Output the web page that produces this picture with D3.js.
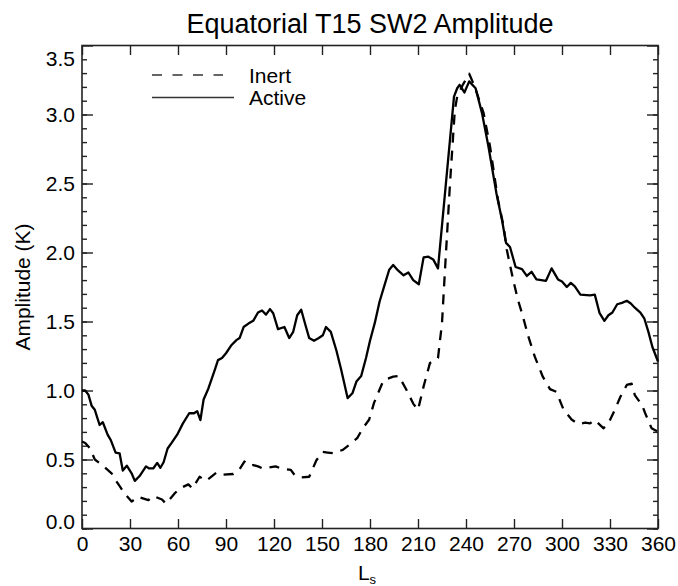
<!DOCTYPE html>
<html>
<head>
<meta charset="utf-8">
<script src="https://cdn.jsdelivr.net/npm/d3@7"></script>
<style>
  html, body { margin: 0; padding: 0; background: #fff; }
  svg { display: block; font-family: "Liberation Sans", Arial, Helvetica, sans-serif; }
</style>
</head>
<body>
<svg id="chart" width="678" height="586"></svg>
<script>
// Solar longitude (Ls) and amplitude (K) for each simulation
const activeLs = [0, 2, 4, 6, 8, 11, 13, 16, 18, 21, 23.5, 25.5, 28, 31, 33, 36, 40, 42, 44.5, 47, 49, 51, 53.5, 56, 59.5, 63, 67, 70, 72, 74, 76, 79, 83, 85, 87.5, 90, 93.5, 96.5, 98.5, 101, 104, 107, 110, 112.5, 115, 117.5, 119.5, 122.5, 126.5, 129.5, 132, 134.5, 137, 140, 142, 145, 148, 150.5, 152.5, 155.5, 159, 162, 166, 169, 171.5, 174.5, 177.5, 180, 183, 186, 189.5, 192, 194.5, 197.5, 201, 204, 207, 210.5, 213.5, 216.5, 219.5, 222.5, 232.5, 234.5, 236, 239, 242, 246, 250, 254, 259, 262.5, 265, 267.5, 271, 275, 278, 281, 284, 290, 293.5, 297.5, 300, 303, 305.5, 308, 311.5, 317.5, 320.5, 323.5, 326.5, 329, 331.5, 334.5, 337.5, 340.5, 343, 345.5, 349, 351.5, 354, 356.5, 360];
const activeAmp = [1.00, 1.00, 0.97, 0.89, 0.86, 0.75, 0.77, 0.68, 0.64, 0.55, 0.545, 0.42, 0.455, 0.40, 0.345, 0.38, 0.45, 0.435, 0.435, 0.475, 0.44, 0.48, 0.58, 0.62, 0.68, 0.76, 0.835, 0.835, 0.85, 0.785, 0.935, 1.015, 1.15, 1.22, 1.235, 1.27, 1.33, 1.365, 1.38, 1.46, 1.485, 1.505, 1.565, 1.58, 1.55, 1.59, 1.56, 1.445, 1.46, 1.38, 1.425, 1.545, 1.585, 1.46, 1.38, 1.36, 1.38, 1.40, 1.46, 1.425, 1.29, 1.15, 0.945, 0.98, 1.065, 1.105, 1.235, 1.36, 1.49, 1.645, 1.78, 1.875, 1.91, 1.87, 1.835, 1.855, 1.80, 1.77, 1.965, 1.97, 1.95, 1.885, 3.13, 3.19, 3.215, 3.16, 3.24, 3.19, 3.01, 2.77, 2.43, 2.235, 2.07, 2.04, 1.895, 1.88, 1.83, 1.86, 1.805, 1.795, 1.885, 1.805, 1.79, 1.75, 1.78, 1.755, 1.695, 1.69, 1.695, 1.56, 1.505, 1.545, 1.565, 1.625, 1.635, 1.65, 1.63, 1.60, 1.565, 1.52, 1.425, 1.315, 1.21];

const inertLs = [0, 2, 5, 8, 12, 18.5, 21, 24.5, 28, 31, 35, 41.5, 44.5, 50, 52.5, 58, 61, 66.5, 69, 73.5, 77.5, 84, 87, 94.5, 98.5, 101.5, 104.5, 107, 110, 113, 121, 124.5, 130.5, 133, 137, 142, 146.5, 150.5, 153.5, 157, 163, 168, 172, 175.5, 179.5, 182.5, 185, 188.5, 194.5, 198, 203, 207, 210, 213.5, 217.5, 222.5, 225, 227, 230, 233, 234.5, 238, 242, 245.5, 251, 255, 260, 263.5, 265.5, 269.5, 272.5, 275, 279, 283, 288, 292.5, 296.5, 301, 306, 310, 314.5, 317.5, 320.5, 326, 329.5, 333, 336.5, 340.5, 343.5, 345.5, 350, 352, 356, 360];
const inertAmp = [0.63, 0.62, 0.58, 0.50, 0.465, 0.40, 0.35, 0.29, 0.235, 0.195, 0.23, 0.205, 0.235, 0.21, 0.18, 0.255, 0.29, 0.32, 0.29, 0.375, 0.345, 0.405, 0.39, 0.395, 0.43, 0.485, 0.455, 0.46, 0.45, 0.435, 0.45, 0.435, 0.425, 0.385, 0.37, 0.375, 0.495, 0.555, 0.55, 0.545, 0.57, 0.615, 0.655, 0.725, 0.79, 0.91, 0.98, 1.075, 1.10, 1.105, 1.00, 0.905, 0.86, 1.03, 1.20, 1.235, 1.49, 1.90, 2.50, 3.03, 3.13, 3.215, 3.295, 3.20, 3.01, 2.77, 2.38, 2.19, 2.02, 1.80, 1.655, 1.56, 1.39, 1.245, 1.10, 1.01, 0.99, 0.86, 0.79, 0.757, 0.767, 0.762, 0.786, 0.726, 0.774, 0.86, 0.955, 1.04, 1.05, 0.967, 0.895, 0.835, 0.726, 0.70];

// Axis ticks
const xTicks = [0, 30, 60, 90, 120, 150, 180, 210, 240, 270, 300, 330, 360];
const yTicks = [0.0, 0.5, 1.0, 1.5, 2.0, 2.5, 3.0, 3.5];
const yMinorTicks = d3.range(0, 35).map(i => i / 10);

const legendNames = ["Inert", "Active"];

const svg = d3.select("#chart");
const plotLeft = 82, plotRight = 658, plotTop = 45.5, plotBottom = 528.5;

const x = d3.scaleLinear().domain([0, 360]).range([plotLeft, plotRight]);
const y = d3.scaleLinear().domain([0, 3.5]).range([plotBottom, plotTop]);

const axisColor = "#222";
const labelSize = 21;

// Bottom axis with labels
const gBottom = svg.append("g").attr("transform", `translate(0,${plotBottom})`)
  .call(d3.axisBottom(x).tickValues(xTicks).tickSizeInner(-9.5).tickSizeOuter(0)
    .tickPadding(8).tickFormat(d3.format("d")));
// Top axis ticks
const gTop = svg.append("g").attr("transform", `translate(0,${plotTop})`)
  .call(d3.axisTop(x).tickValues(xTicks).tickSizeInner(-9.5).tickSizeOuter(0).tickFormat(""));
// Left axis with labels, minor ticks
const gLeftMinor = svg.append("g").attr("transform", `translate(${plotLeft},0)`)
  .call(d3.axisLeft(y).tickValues(yMinorTicks).tickSizeInner(-5).tickSizeOuter(0).tickFormat(""));
const gLeft = svg.append("g").attr("transform", `translate(${plotLeft},0)`)
  .call(d3.axisLeft(y).tickValues(yTicks).tickSizeInner(-11).tickSizeOuter(0)
    .tickPadding(7).tickFormat(d3.format(".1f")));
// Right axis ticks
const gRightMinor = svg.append("g").attr("transform", `translate(${plotRight},0)`)
  .call(d3.axisRight(y).tickValues(yMinorTicks).tickSizeInner(-5).tickSizeOuter(0).tickFormat(""));
const gRight = svg.append("g").attr("transform", `translate(${plotRight},0)`)
  .call(d3.axisRight(y).tickValues(yTicks).tickSizeInner(-11).tickSizeOuter(0).tickFormat(""));

[gBottom, gTop, gLeft, gLeftMinor, gRight, gRightMinor].forEach(g => {
  g.select(".domain").remove();
  g.selectAll(".tick line").attr("stroke", axisColor).attr("stroke-width", 1.4);
  g.selectAll("text").attr("fill", "#000").attr("font-size", labelSize)
    .attr("font-family", "'Liberation Sans', Arial, Helvetica, sans-serif");
});
// End labels on the value axis sit just inside the frame
gLeft.selectAll(".tick text").attr("dy", d => d === 3.5 ? "0.95em" : d === 0 ? "0.0em" : "0.32em");

// Plot frame
svg.append("rect")
  .attr("x", plotLeft).attr("y", plotTop)
  .attr("width", plotRight - plotLeft).attr("height", plotBottom - plotTop)
  .attr("fill", "none").attr("stroke", axisColor).attr("stroke-width", 1.6);

// Series lines
const line = d3.line().x(d => x(d[0])).y(d => y(d[1]));
const inertData = inertLs.map((v, i) => [v, inertAmp[i]]);
const activeData = activeLs.map((v, i) => [v, activeAmp[i]]);

svg.append("path").datum(inertData)
  .attr("d", line).attr("fill", "none").attr("stroke", "#000")
  .attr("stroke-width", 2.3).attr("stroke-dasharray", "10,8")
  .attr("stroke-linejoin", "round");
svg.append("path").datum(activeData)
  .attr("d", line).attr("fill", "none").attr("stroke", "#000")
  .attr("stroke-width", 2.3).attr("stroke-linejoin", "round");

// Legend
const legend = svg.append("g");
legend.append("line").attr("x1", 152).attr("x2", 223).attr("y1", 75).attr("y2", 75)
  .attr("stroke", "#333").attr("stroke-width", 1.5).attr("stroke-dasharray", "10,10.5");
legend.append("line").attr("x1", 152).attr("x2", 234).attr("y1", 97.5).attr("y2", 97.5)
  .attr("stroke", "#333").attr("stroke-width", 1.5);
legend.selectAll("text").data(legendNames).join("text")
  .attr("x", 249).attr("y", (d, i) => 83 + i * 22)
  .attr("font-size", labelSize).attr("fill", "#000").text(d => d);

// Title
svg.append("text").attr("x", (plotLeft + plotRight) / 2).attr("y", 33)
  .attr("text-anchor", "middle").attr("font-size", 27).attr("fill", "#000")
  .text("Equatorial T15 SW2 Amplitude");

// Axis titles
svg.append("text")
  .attr("transform", `translate(30,${(plotTop + plotBottom) / 2}) rotate(-90)`)
  .attr("text-anchor", "middle").attr("font-size", labelSize).attr("fill", "#000")
  .text("Amplitude (K)");

const xl = svg.append("text").attr("x", (plotLeft + plotRight) / 2 - 3).attr("y", 580)
  .attr("text-anchor", "middle").attr("font-size", labelSize).attr("fill", "#000");
xl.append("tspan").text("L");
xl.append("tspan").attr("font-size", 13).attr("dy", 4).text("s");
</script>
</body>
</html>
